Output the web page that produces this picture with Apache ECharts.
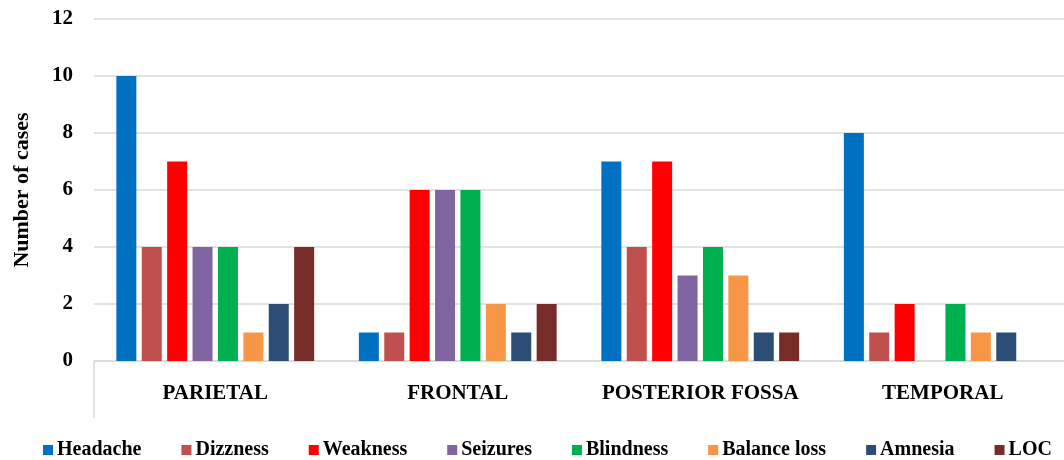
<!DOCTYPE html>
<html>
<head>
<meta charset="utf-8">
<script src="https://cdn.jsdelivr.net/npm/echarts@6/dist/echarts.min.js"></script>
<style>
  html, body { margin: 0; padding: 0; background: #fff; }
  #chart { width: 1064px; height: 460px; }
</style>
</head>
<body>
<div id="chart"></div>
<script>
// Tumour locations and symptom counts
const locations = ['PARIETAL', 'FRONTAL', 'POSTERIOR FOSSA', 'TEMPORAL'];
const symptoms = ['Headache', 'Dizzness', 'Weakness', 'Seizures', 'Blindness', 'Balance loss', 'Amnesia', 'LOC'];
const colors = ['#0070C0', '#C0504D', '#FF0000', '#8064A2', '#00B050', '#F79646', '#2C4D75', '#772C2A'];

const headache    = [10, 1, 7, 8];
const dizzness    = [4, 1, 4, 1];
const weakness    = [7, 6, 7, 2];
const seizures    = [4, 6, 3, 0];
const blindness   = [4, 6, 4, 2];
const balanceLoss = [1, 2, 3, 1];
const amnesia     = [2, 1, 1, 1];
const loc         = [4, 2, 1, 0];

const yTicks = [0, 2, 4, 6, 8, 10, 12];

const seriesValues = [headache, dizzness, weakness, seizures, blindness, balanceLoss, amnesia, loc];
const font = '"Liberation Serif", "Times New Roman", serif';
const gridColor = '#d9d9d9';

// plot area layout
const gridLeft = 94, gridTop = 19, gridBottom = 99;
const chartHeight = 460;
const axisY = chartHeight - gridBottom;

const chart = echarts.init(document.getElementById('chart'));
chart.setOption({
  animation: false,
  color: colors,
  grid: { left: gridLeft, right: 0, top: gridTop, bottom: gridBottom, containLabel: false },
  legend: {
    bottom: -5,
    left: 38,
    itemWidth: 10,
    itemHeight: 10,
    itemGap: 40,
    icon: 'rect',
    textStyle: { fontFamily: font, fontWeight: 'bold', fontSize: 20, color: '#000', padding: [0, 0, 0, -1] },
    data: symptoms
  },
  // left boundary line of the category band below the axis
  graphic: [{
    type: 'line',
    shape: { x1: gridLeft, y1: axisY, x2: gridLeft, y2: axisY + 57 },
    style: { stroke: gridColor, lineWidth: 1.5 },
    silent: true
  }],
  xAxis: {
    type: 'category',
    data: locations,
    axisLine: { lineStyle: { color: gridColor, width: 1.5 } },
    axisTick: { show: false },
    axisLabel: { interval: 0, fontFamily: font, fontWeight: 'bold', fontSize: 21, color: '#000', margin: 22 }
  },
  yAxis: {
    type: 'value',
    min: yTicks[0],
    max: yTicks[yTicks.length - 1],
    interval: 2,
    name: 'Number of cases',
    nameLocation: 'middle',
    nameGap: 61,
    nameRotate: 90,
    nameTextStyle: { fontFamily: font, fontWeight: 'bold', fontSize: 22, color: '#000' },
    axisLine: { show: false },
    axisTick: { show: false },
    axisLabel: { fontFamily: font, fontWeight: 'bold', fontSize: 21, color: '#000', margin: 21 },
    splitLine: { lineStyle: { color: gridColor, width: 1.5 } }
  },
  series: symptoms.map((name, i) => ({
    name: name,
    type: 'bar',
    data: seriesValues[i],
    barWidth: 20,
    barGap: '27%'
  }))
});
</script>
</body>
</html>
